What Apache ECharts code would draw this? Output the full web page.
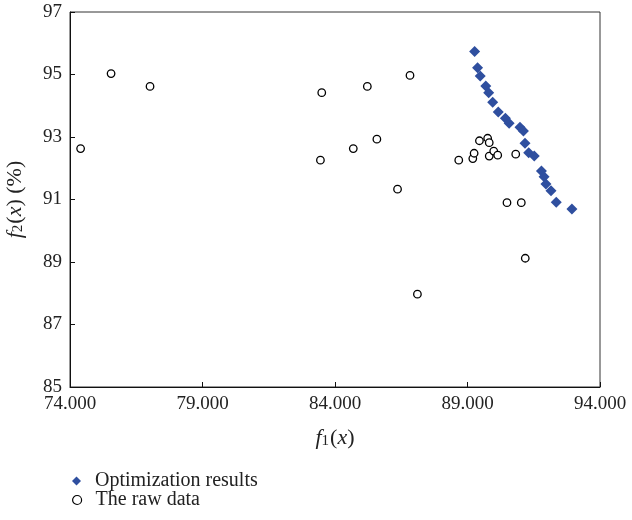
<!DOCTYPE html>
<html>
<head>
<meta charset="utf-8">
<script src="https://cdn.jsdelivr.net/npm/echarts@6/dist/echarts.min.js"></script>
<style>html,body{margin:0;padding:0;background:#fff}#c{width:632px;height:520px}</style>
</head>
<body>
<div id="c"></div>
<script>
var xTicks = [74, 79, 84, 89, 94];
var yTicks = [85, 87, 89, 91, 93, 95, 97];
var optX = [89.27, 89.38, 89.48, 89.69, 89.80, 89.95, 90.16, 90.43, 90.57, 90.98, 91.11, 91.17, 91.31, 91.52, 91.79, 91.89, 91.96, 92.15, 92.35, 92.94];
var optY = [95.74, 95.22, 94.95, 94.63, 94.42, 94.11, 93.80, 93.60, 93.44, 93.31, 93.19, 92.80, 92.50, 92.39, 91.91, 91.73, 91.50, 91.28, 90.91, 90.70];
var rawX = [74.40, 75.55, 77.02, 83.50, 83.45, 84.69, 85.22, 86.83, 85.58, 86.36, 89.45, 89.76, 89.82, 88.67, 89.20, 89.25, 89.82, 89.99, 90.14, 90.82, 90.49, 91.03, 91.18, 87.11];
var rawY = [92.63, 95.03, 94.62, 94.42, 92.26, 92.63, 94.62, 94.97, 92.93, 91.33, 92.88, 92.96, 92.82, 92.26, 92.31, 92.48, 92.39, 92.55, 92.42, 92.45, 90.90, 90.90, 89.12, 87.97];
var legendNames = ['Optimization results', 'The raw data'];

function zip(a, b) { return a.map(function (v, i) { return [v, b[i]]; }); }

var serif = '"Liberation Serif", "DejaVu Serif", serif';
var nameRich = {
  i: { fontFamily: serif, fontSize: 22, fontStyle: 'italic', color: '#222', lineHeight: 26, verticalAlign: 'bottom' },
  r: { fontFamily: serif, fontSize: 22, color: '#222', lineHeight: 26, verticalAlign: 'bottom' },
  s: { fontFamily: serif, fontSize: 15, color: '#222', lineHeight: 15, verticalAlign: 'bottom', padding: [0, 1, 0, 0] }
};
var legendText = { fontFamily: serif, fontSize: 20, color: '#222', padding: [0, 0, 0, 9] };
var chart = echarts.init(document.getElementById('c'), null, { renderer: 'canvas' });
chart.setOption({
  animation: false,
  backgroundColor: '#fff',
  textStyle: { fontFamily: serif },
  grid: { left: 70, right: 32, top: 12, bottom: 133, outerBoundsMode: 'none', containLabel: false, show: true, borderColor: '#333', borderWidth: 1, backgroundColor: 'transparent' },
  xAxis: {
    type: 'value', min: xTicks[0], max: xTicks[xTicks.length - 1], interval: 5,
    name: '{i|f}{s|1}{r|(}{i|x}{r|)}', nameLocation: 'middle', nameGap: 36,
    nameTextStyle: { rich: nameRich },
    axisLine: { lineStyle: { color: '#111', width: 1 } },
    axisTick: { inside: true, length: 5, lineStyle: { color: '#111' } },
    axisLabel: { fontFamily: serif, fontSize: 19, color: '#222', margin: 8, formatter: function (v) { return v.toFixed(3); } },
    splitLine: { show: false }
  },
  yAxis: {
    type: 'value', min: yTicks[0], max: yTicks[yTicks.length - 1], interval: 2,
    name: '{i|f}{s|2}{r|(}{i|x}{r|) (%)}', nameLocation: 'middle', nameGap: 44, nameRotate: 90,
    nameTextStyle: { rich: nameRich },
    axisLine: { lineStyle: { color: '#111', width: 1 } },
    axisTick: { inside: true, length: 5, lineStyle: { color: '#111' } },
    axisLabel: { fontFamily: serif, fontSize: 19, color: '#222', margin: 8 },
    splitLine: { show: false }
  },
  legend: [
    {
      orient: 'vertical', left: 72, top: 471, padding: 0, itemWidth: 9, itemHeight: 9,
      textStyle: legendText,
      data: [{ name: legendNames[0], icon: 'diamond', itemStyle: { color: '#2f4f9f', opacity: 1 } }]
    },
    {
      orient: 'vertical', left: 72, top: 490, padding: 0, itemWidth: 9, itemHeight: 9,
      textStyle: legendText,
      data: [{ name: legendNames[1], icon: 'circle', itemStyle: { color: '#fff', borderColor: '#000', borderWidth: 1.2 } }]
    }
  ],
  series: [
    {
      name: legendNames[1], type: 'scatter', symbol: 'circle', symbolSize: 7.5,
      itemStyle: { color: '#fff', borderColor: '#000', borderWidth: 1.3, opacity: 1 },
      data: zip(rawX, rawY), z: 2
    },
    {
      name: legendNames[0], type: 'scatter', symbol: 'diamond', symbolSize: 11,
      itemStyle: { color: '#2f4f9f', opacity: 1 },
      data: zip(optX, optY), z: 3
    }
  ]
});
</script>
</body>
</html>
